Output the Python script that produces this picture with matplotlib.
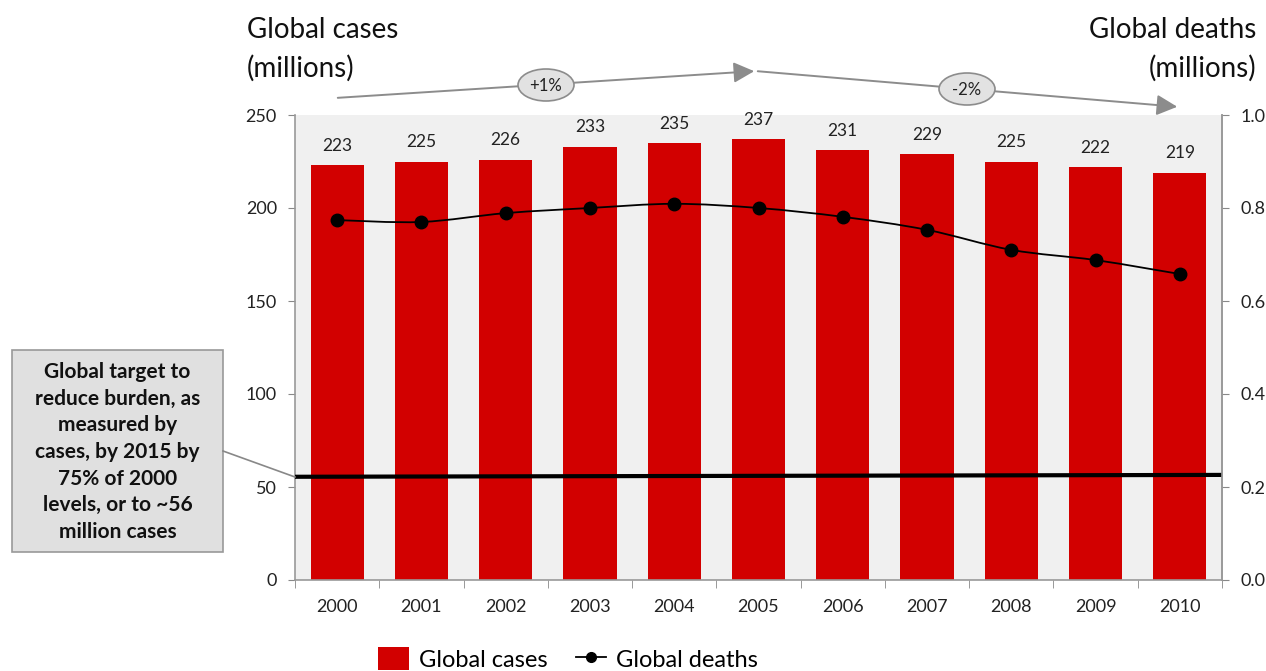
import matplotlib
matplotlib.use("Agg")
import matplotlib.pyplot as plt
from matplotlib.path import Path
from matplotlib.patches import PathPatch, Ellipse, FancyArrowPatch, Rectangle
from matplotlib.lines import Line2D
import numpy as np

plt.rcParams['font.family'] = ['Lato', 'DejaVu Sans']

years = ["2000", "2001", "2002", "2003", "2004", "2005", "2006", "2007", "2008", "2009", "2010"]
cases = [223, 225, 226, 233, 235, 237, 231, 229, 225, 222, 219]
deaths = [0.774, 0.770, 0.789, 0.800, 0.809, 0.800, 0.781, 0.753, 0.710, 0.688, 0.658]
target_ends = [55.5, 56.5]
cases_ticks = [0, 50, 100, 150, 200, 250]
deaths_ticks = [0.0, 0.2, 0.4, 0.6, 0.8, 1.0]

W, H = 1266, 671
fig = plt.figure(figsize=(W / 100, H / 100), dpi=100)
fig.patch.set_facecolor("white")


def fp(x, y):
    """Pixel position to figure fraction."""
    return (x / W, 1 - y / H)


ax = fig.add_axes([295 / W, 1 - 580 / H, (1222 - 295) / W, (580 - 115) / H])
ax.set_facecolor("#f0f0f0")
x = np.arange(len(years))

bars = ax.bar(x, cases, width=0.63, color="#d20000", zorder=2)
for xi, v in zip(x, cases):
    ax.text(xi, v + 6, f"{v}", ha="center", va="bottom", fontsize=12.5, color="#222222")

ax.set_xlim(-0.5, len(years) - 0.5)
ax.set_ylim(0, 250)
ax.set_yticks(cases_ticks)
ax.set_yticklabels([str(t) for t in cases_ticks], fontsize=13, color="#222222")
ax.set_xticks(x)
ax.set_xticklabels(years, fontsize=13, color="#222222")
ax.tick_params(axis="x", length=0, pad=14)
ax.set_xticks(np.arange(-0.5, len(years), 1), minor=True)
ax.tick_params(axis="x", which="minor", length=6, color="#888888")
ax.tick_params(axis="y", length=5, color="#888888", pad=8)
ax.spines["top"].set_visible(False)
for s in ["left", "bottom", "right"]:
    ax.spines[s].set_color("#999999")
    ax.spines[s].set_linewidth(1.2)

# target line across the chart
ax.plot([-0.5, len(years) - 0.5], target_ends, color="black", lw=3, zorder=4,
        solid_capstyle="butt")

# deaths on secondary axis, smoothed curve through the points
ax2 = ax.twinx()
ax2.set_ylim(0, 1.0)
ax2.set_yticks(deaths_ticks)
ax2.set_yticklabels([f"{t:.1f}" for t in deaths_ticks], fontsize=13, color="#222222")
ax2.tick_params(axis="y", length=5, color="#888888", pad=8)
for s in ["top", "left", "bottom"]:
    ax2.spines[s].set_visible(False)
ax2.spines["right"].set_color("#999999")
ax2.spines["right"].set_linewidth(1.2)

pts = np.column_stack([x, deaths])
verts = [tuple(pts[0])]
codes = [Path.MOVETO]
n = len(pts)
for i in range(n - 1):
    p0 = pts[i - 1] if i > 0 else pts[i]
    p1 = pts[i]
    p2 = pts[i + 1]
    p3 = pts[i + 2] if i + 2 < n else pts[i + 1]
    c1 = p1 + (p2 - p0) / 6.0
    c2 = p2 - (p3 - p1) / 6.0
    verts += [tuple(c1), tuple(c2), tuple(p2)]
    codes += [Path.CURVE4] * 3
ax2.add_patch(PathPatch(Path(verts, codes), facecolor="none", edgecolor="black",
                        lw=1.3, zorder=5))
ax2.plot(x, deaths, "o", color="black", ms=9, zorder=6)

# axis titles
fig.text(*fp(247, 30), "Global cases", fontsize=20, ha="left", va="center", color="#111111")
fig.text(*fp(247, 68), "(millions)", fontsize=20, ha="left", va="center", color="#111111")
fig.text(*fp(1256, 30), "Global deaths", fontsize=20, ha="right", va="center", color="#111111")
fig.text(*fp(1256, 68), "(millions)", fontsize=20, ha="right", va="center", color="#111111")

# trend arrows with growth rates
arrow_kw = dict(arrowstyle="-|>,head_length=0.9,head_width=0.45", color="#8c8c8c",
                lw=1.4, transform=fig.transFigure, mutation_scale=14)
fig.patches.append(FancyArrowPatch(fp(335, 98), fp(757, 71), **arrow_kw))
fig.patches.append(FancyArrowPatch(fp(755, 71), fp(1180, 107), **arrow_kw))
for cx, cy, label in [(546, 85, "+1%"), (967, 89, "-2%")]:
    e = Ellipse(fp(cx, cy), 56 / W, 32 / H, transform=fig.transFigure,
                facecolor="#e2e2e2", edgecolor="#8c8c8c", lw=1.2, zorder=5)
    fig.patches.append(e)
    fig.text(*fp(cx, cy + 1), label, fontsize=12, ha="center", va="center",
             color="#222222", zorder=6)

# target callout
bx0, by0, bx1, by1 = 12, 350, 223, 552
fig.patches.append(Rectangle(fp(bx0, by1), (bx1 - bx0) / W, (by1 - by0) / H,
                             transform=fig.transFigure, facecolor="#e0e0e0",
                             edgecolor="#999999", lw=1.2))
fig.text(*fp((bx0 + bx1) / 2, (by0 + by1) / 2 + 1),
         "Global target to\nreduce burden, as\nmeasured by\ncases, by 2015 by\n75% of 2000\nlevels, or to ~56\nmillion cases",
         fontsize=15, fontweight="bold", ha="center", va="center", linespacing=1.42,
         color="#111111")
fig.lines.append(Line2D([223 / W, 295 / W], [1 - 451 / H, 1 - 477 / H],
                        transform=fig.transFigure, color="#888888", lw=1.2))

# legend
handles = [Rectangle((0, 0), 1, 1, facecolor="#d20000"),
           Line2D([], [], color="black", marker="o", ms=7, lw=1.3)]
fig.legend(handles, ["Global cases", "Global deaths"], loc="center",
           bbox_to_anchor=fp(568, 659), ncol=2, frameon=False, fontsize=17,
           handlelength=1.3, handleheight=1.1, columnspacing=1.2, handletextpad=0.4)

fig.savefig("out.png", dpi=100)
